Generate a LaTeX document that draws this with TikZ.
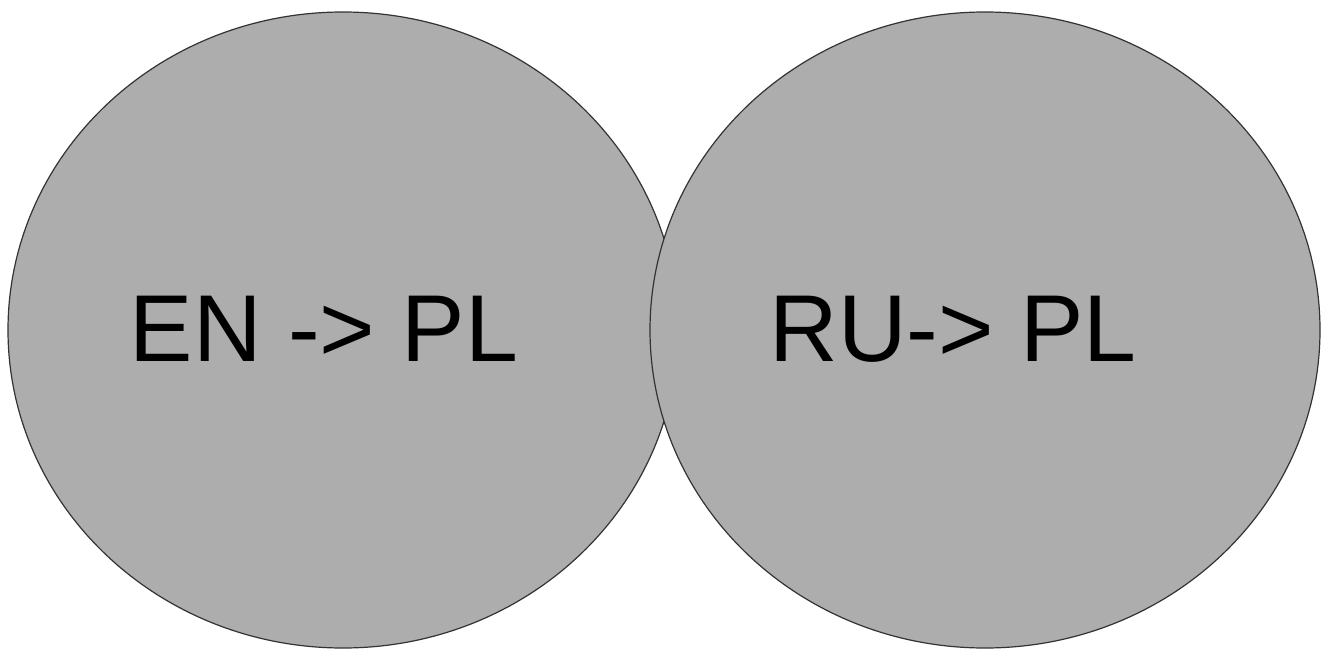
\documentclass[tikz,border=0pt]{standalone}
\usepackage{fontspec}
\setmainfont{Liberation Sans}
\definecolor{cfill}{HTML}{ADADAD}
\definecolor{cline}{HTML}{333333}
\tikzset{blob/.style={draw=cline, line width=1.2pt, fill=cfill},
  lbl/.style={font=\fontsize{95}{110}\selectfont, text=black, inner sep=0pt}}
\begin{document}
\begin{tikzpicture}[x=1pt,y=1pt]
\useasboundingbox (0,0) rectangle (1322,649);
\fill[white] (0,0) rectangle (1322,649);
\draw[blob] (343,319) ellipse [x radius=335, y radius=318];
\draw[blob] (985,319) ellipse [x radius=335, y radius=318];
\node[lbl] (en) at (324,320) {EN -> PL};
\node[lbl] (ru) at (953,320) {RU-> PL};
\end{tikzpicture}
\end{document}
